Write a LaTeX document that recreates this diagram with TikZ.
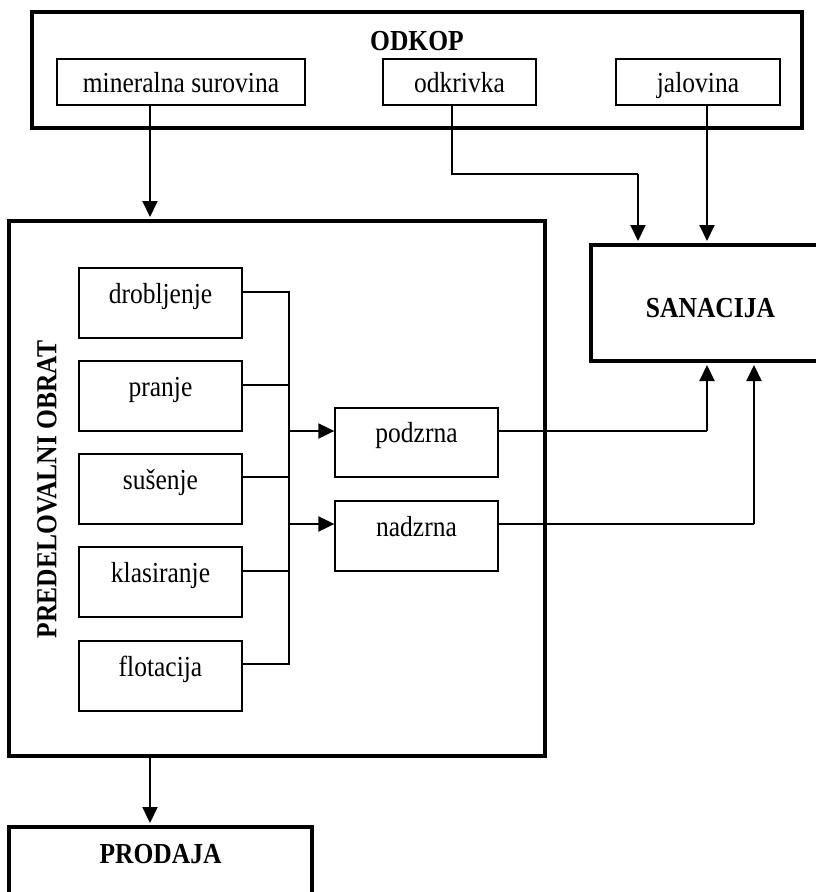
\documentclass[tikz,border=0pt]{standalone}
\usepackage{fontspec}
\setmainfont{Liberation Serif}[FakeStretch=0.88]
\usetikzlibrary{arrows.meta}
\begin{document}
\begin{tikzpicture}[x=1pt,y=-1pt,
  every node/.style={font=\fontsize{29pt}{34pt}\selectfont},
  bigbox/.style={draw,line width=4pt,rectangle,inner sep=0pt},
  topbox/.style={draw,line width=1.3pt,rectangle,inner sep=0pt,minimum height=46pt,text height=21.4pt,text depth=0pt},
  smallbox/.style={draw,line width=1.3pt,rectangle,inner sep=0pt,minimum width=163pt,minimum height=70pt,text height=0pt,text depth=0pt},
  conn/.style={line width=1.3pt},
  arr/.style={line width=2pt,-{Triangle[length=16pt,width=15pt]}},
  title/.style={font=\fontsize{29pt}{34pt}\selectfont\bfseries,anchor=base,inner sep=0pt}
]
\useasboundingbox (0,0) rectangle (816,892);

% ODKOP
\node[bigbox,minimum width=770pt,minimum height=116pt] (odkop) at (417,70) {};
\node[title] (odkoptitle) at (417,50) {ODKOP};
\node[topbox,minimum width=248pt] (mineral) at (181,82) {mineralna surovina};
\node[topbox,minimum width=153pt] (odkrivka) at (459.5,82) {odkrivka};
\node[topbox,minimum width=164pt] (jalovina) at (698,82) {jalovina};

% PREDELOVALNI OBRAT
\node[bigbox,minimum width=536pt,minimum height=535pt] (predel) at (277,488.5) {};
\node[title,rotate=90] (predeltitle) at (56.4,489.5) {PREDELOVALNI OBRAT};
\node[smallbox] (drob) at (160.5,303) {drobljenje};
\node[smallbox] (pranje) at (160.5,396) {pranje};
\node[smallbox] (susenje) at (160.5,489) {sušenje};
\node[smallbox] (klasir) at (160.5,582) {klasiranje};
\node[smallbox] (flot) at (160.5,676) {flotacija};
\node[smallbox,minimum height=69pt] (podzrna) at (416.5,442.5) {podzrna};
\node[smallbox] (nadzrna) at (416.5,536) {nadzrna};

% SANACIJA
\node[bigbox,minimum width=239pt,minimum height=116pt,text height=28pt,text depth=0pt,font=\fontsize{29pt}{34pt}\selectfont\bfseries] (sanacija) at (710.5,303) {SANACIJA};

% PRODAJA
\node[bigbox,minimum width=303pt,minimum height=83pt,text height=0pt,text depth=11pt,font=\fontsize{29pt}{34pt}\selectfont\bfseries] (prodaja) at (160.5,868.5) {PRODAJA};

% helper coordinates
\coordinate (ax) at (150,0);
\coordinate (bx) at (289,0);
\coordinate (ox) at (452,0);
\coordinate (ob) at (638,174);
\coordinate (jx) at (707,0);
\coordinate (nx) at (754,0);

% main flow
\draw[arr] (mineral.south -| ax) -- ([yshift=2pt]predel.north -| ax);
\draw[arr] (predel.south -| ax) -- ([yshift=2pt]prodaja.north -| ax);

% to SANACIJA from top
\draw[conn] (odkrivka.south -| ox) |- (ob);
\draw[arr] (ob) -- ([yshift=2pt]sanacija.north -| ob);
\draw[conn] (jalovina.south -| jx) -- (odkop.south -| jx);
\draw[arr] (odkop.south -| jx) -- ([yshift=2pt]sanacija.north -| jx);

% bus
\draw[conn] ([yshift=11pt]drob.east) -- ([yshift=11pt]drob.east -| bx) -- ([yshift=12pt]flot.east -| bx) -- ([yshift=12pt]flot.east);
\draw[conn] ([yshift=11pt]pranje.east) -- ([yshift=11pt]pranje.east -| bx);
\draw[conn] ([yshift=12pt]susenje.east) -- ([yshift=12pt]susenje.east -| bx);
\draw[conn] ([yshift=11pt]klasir.east) -- ([yshift=11pt]klasir.east -| bx);
\draw[arr] ([yshift=11.5pt]podzrna.west -| bx) -- ([yshift=11.5pt]podzrna.west);
\draw[arr] ([yshift=12pt]nadzrna.west -| bx) -- ([yshift=12pt]nadzrna.west);

% to SANACIJA from below
\draw[conn] ([yshift=11.5pt]podzrna.east) -- ([yshift=11.5pt]podzrna.east -| jx) coordinate (pj);
\draw[arr] (pj) -- ([yshift=-2pt]sanacija.south -| jx);
\draw[conn] ([yshift=12pt]nadzrna.east) -- ([yshift=12pt]nadzrna.east -| nx) coordinate (nj);
\draw[arr] (nj) -- ([yshift=-2pt]sanacija.south -| nx);
\end{tikzpicture}
\end{document}
